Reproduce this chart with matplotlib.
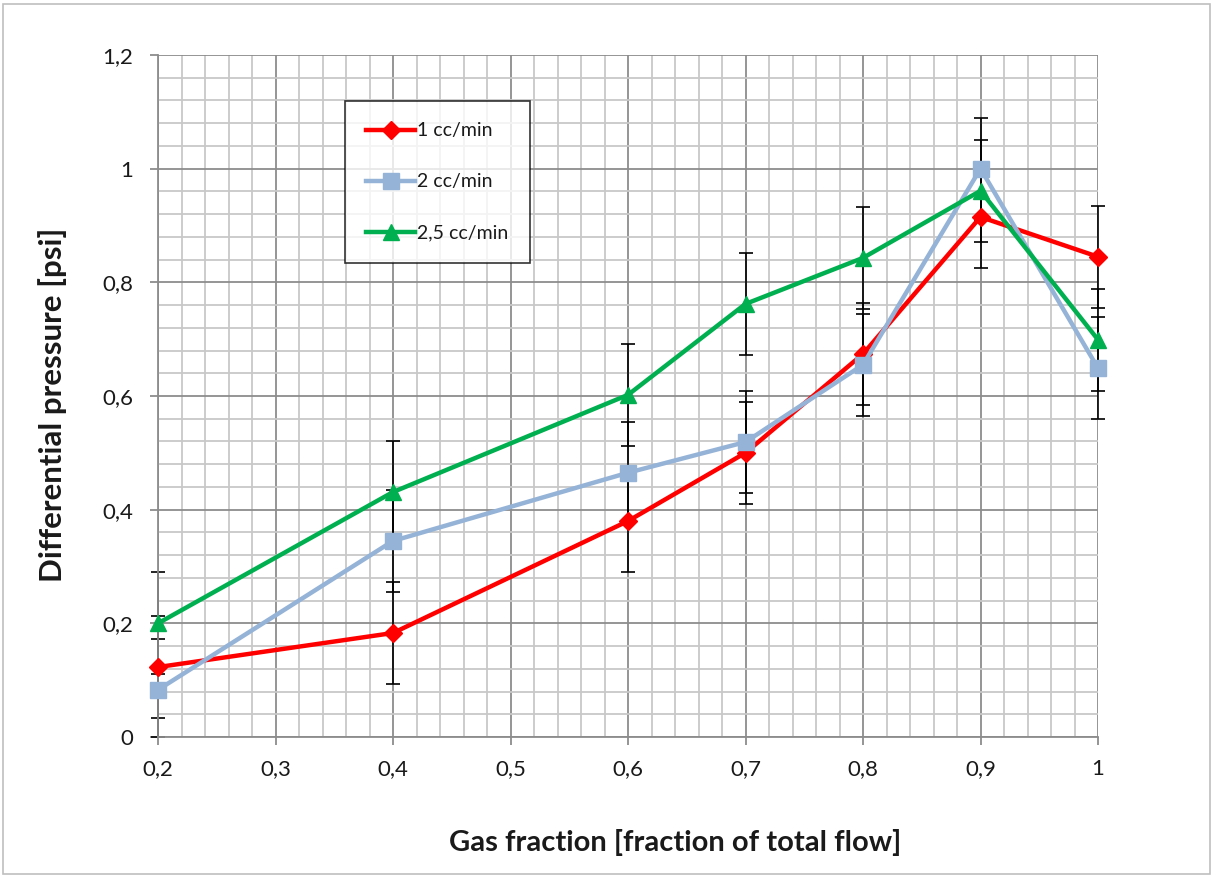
import matplotlib
matplotlib.use("Agg")
import matplotlib.pyplot as plt
from matplotlib.ticker import MultipleLocator, FuncFormatter
from matplotlib.patches import Rectangle
import numpy as np

plt.rcParams['font.family'] = ['Lato', 'DejaVu Sans']

gas_fraction = [0.2, 0.4, 0.6, 0.7, 0.8, 0.9, 1.0]
dp_1cc = [0.123, 0.183, 0.38, 0.50, 0.674, 0.915, 0.845]
dp_2cc = [0.083, 0.345, 0.465, 0.519, 0.655, 1.0, 0.649]
dp_25cc = [0.20, 0.431, 0.602, 0.762, 0.843, 0.961, 0.699]
err = 0.09
labels = ['1 cc/min', '2 cc/min', '2,5 cc/min']
colors = ['#FF0000', '#95B3D7', '#00B050']
markers = ['D', 's', '^']
msizes = [9, 11, 11]

W, H = 1214, 877
fig = plt.figure(figsize=(W/100, H/100), dpi=100)
ax = fig.add_axes([158/W, 1-737/H, (1098-158)/W, (737-55)/H])

ax.set_xlim(0.2, 1.0)
ax.set_ylim(0, 1.2)
ax.xaxis.set_major_locator(MultipleLocator(0.1))
ax.xaxis.set_minor_locator(MultipleLocator(0.02))
ax.yaxis.set_major_locator(MultipleLocator(0.2))
ax.yaxis.set_minor_locator(MultipleLocator(0.04))

def fmt(v, pos):
    s = ('%.1f' % v)
    if s.endswith('.0'):
        s = s[:-2]
    return s.replace('.', ',')
ax.xaxis.set_major_formatter(FuncFormatter(fmt))
ax.yaxis.set_major_formatter(FuncFormatter(fmt))

ax.grid(which='minor', color='#C8C8C8', linewidth=1.3, zorder=0)
ax.grid(which='major', color='#8C8C8C', linewidth=1.3, zorder=0)
ax.set_axisbelow(True)
for s in ['top', 'right']:
    ax.spines[s].set_visible(False)
for s in ['left', 'bottom']:
    ax.spines[s].set_color('#8C8C8C')
    ax.spines[s].set_linewidth(1.3)
ax.tick_params(which='major', length=6, color='#8C8C8C', width=1.3,
               labelsize=16, labelcolor='#1a1a1a')
ax.tick_params(axis='x', pad=10)
ax.tick_params(axis='y', pad=12)
ax.tick_params(which='minor', length=0)

for ys in [dp_1cc, dp_2cc, dp_25cc]:
    lo = [min(err, y) for y in ys]
    ax.errorbar(gas_fraction, ys, yerr=[lo, [err]*len(ys)], fmt='none', ecolor='black',
                elinewidth=1.2, capsize=5, capthick=1.2, zorder=2, clip_on=False)
for ys, c, m, ms, lab in zip([dp_1cc, dp_2cc, dp_25cc], colors, markers, msizes, labels):
    ax.plot(gas_fraction, ys, color=c, marker=m, markersize=ms, linewidth=3.2,
            label=lab, zorder=3, clip_on=False)

leg = ax.legend(loc='upper left', bbox_to_anchor=(345/W, 1-101/H),
                bbox_transform=fig.transFigure, frameon=True, fancybox=False,
                fontsize=14, labelspacing=1.75, handlelength=2.5, handletextpad=0.1,
                borderpad=1.1, borderaxespad=0)
leg.get_frame().set_edgecolor('black')
leg.get_frame().set_linewidth(1.2)
for t in leg.get_texts():
    t.set_color('#1a1a1a')

fig.text(675/W, 1-843/H, 'Gas fraction [fraction of total flow]', ha='center',
         va='center', fontsize=21, fontweight='bold', color='#1a1a1a')
fig.text(53/W, 1-405/H, 'Differential pressure [psi]', ha='center', va='center',
         rotation=90, fontsize=22.5, fontweight='bold', color='#1a1a1a')

fig.patches.append(Rectangle((3/W, 3/H), (W-7)/W, (H-7)/H, transform=fig.transFigure,
                             fill=False, edgecolor='#BFBFBF', linewidth=1.2))

fig.savefig('out.png', dpi=100)
